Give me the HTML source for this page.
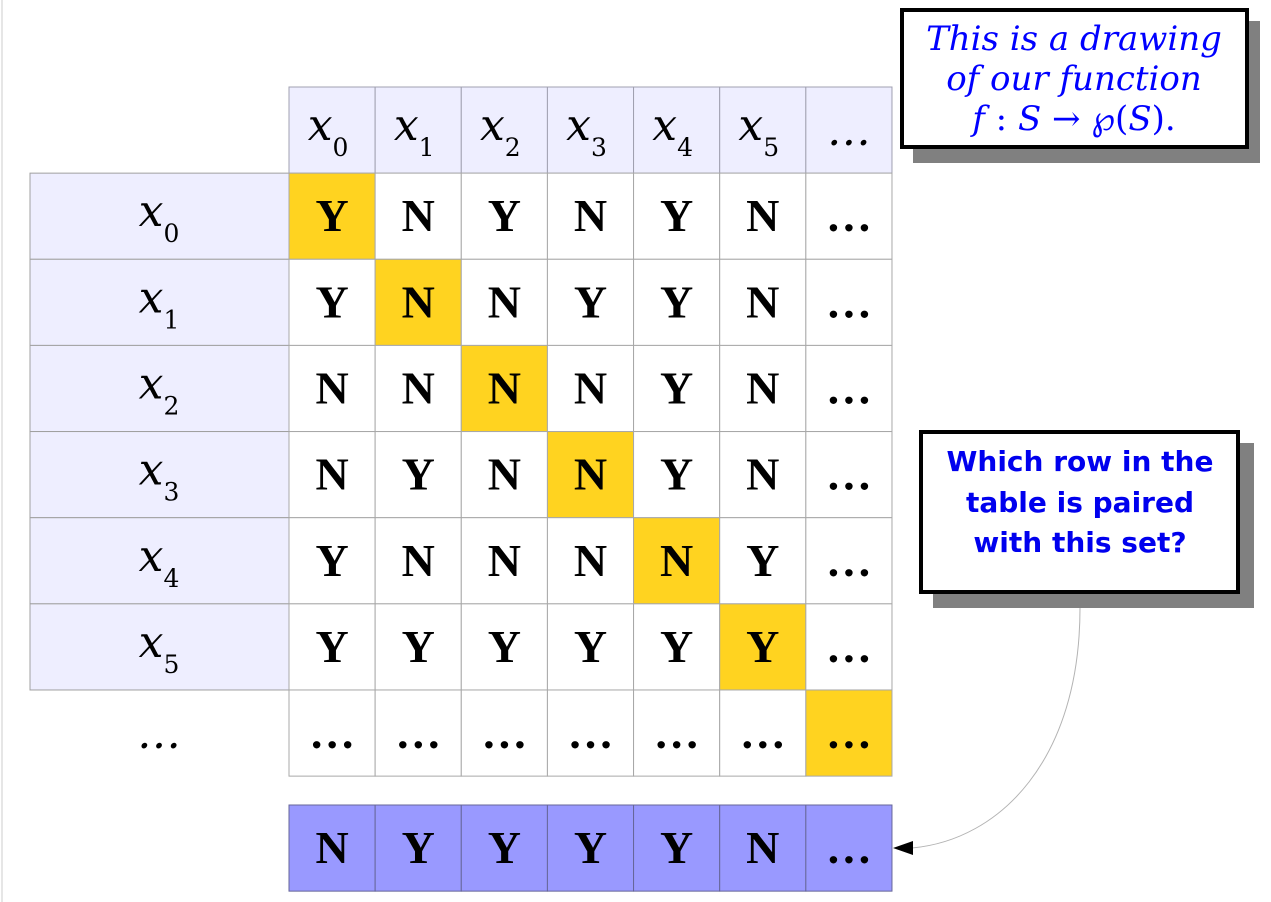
<!DOCTYPE html>
<html><head><meta charset="utf-8"><style>
html,body{margin:0;padding:0;background:#fff;}
svg{display:block;}
.cell{font-family:"Liberation Serif",serif;font-weight:bold;font-size:46px;fill:#000;}
.xv{font-family:"DejaVu Serif",serif;font-style:italic;font-size:44px;fill:#000;}
.sub{font-family:"DejaVu Serif",serif;font-style:normal;font-size:25px;fill:#000;}
</style></head><body>
<svg id="s" width="1271" height="902" viewBox="0 0 1271 902" xmlns="http://www.w3.org/2000/svg">
<line x1="2" y1="0" x2="2" y2="902" stroke="#e6e6e6" stroke-width="2"/>
<g id="tbl"></g>
<g>
<rect x="913" y="21" width="347" height="142" fill="#808080"/>
<rect x="902" y="10" width="345" height="137" fill="#fff" stroke="#000" stroke-width="4"/>
<text x="1074" y="50" text-anchor="middle" font-family="DejaVu Serif,serif" font-style="italic" font-size="34" fill="#0000ff">This is a drawing</text>
<text x="1074" y="90" text-anchor="middle" font-family="DejaVu Serif,serif" font-style="italic" font-size="34" fill="#0000ff">of our function</text>
<text x="1074" y="130" text-anchor="middle" font-family="DejaVu Serif,serif" font-size="34" fill="#0000ff"><tspan font-style="italic">f</tspan> : <tspan font-style="italic">S</tspan> → ℘(<tspan font-style="italic">S</tspan>).</text>
</g>
<g>
<rect x="933" y="443" width="321" height="165" fill="#808080"/>
<rect x="921" y="432" width="317" height="160" fill="#fff" stroke="#000" stroke-width="4"/>
<text x="1080" y="471" text-anchor="middle" font-family="DejaVu Sans,sans-serif" font-weight="bold" font-size="28" fill="#0000ee">Which row in the</text>
<text x="1080" y="512" text-anchor="middle" font-family="DejaVu Sans,sans-serif" font-weight="bold" font-size="28" fill="#0000ee">table is paired</text>
<text x="1080" y="552" text-anchor="middle" font-family="DejaVu Sans,sans-serif" font-weight="bold" font-size="28" fill="#0000ee">with this set?</text>
</g>
<path d="M1080,608 C1080,760 1000,840 912,848" fill="none" stroke="#b3b3b3" stroke-width="1"/>
<polygon points="893,848 913,841 913,855" fill="#000"/>
</svg>
<script>
const rowLabels=["0","1","2","3","4","5"];
const colLabels=["0","1","2","3","4","5"];
const matrix=[
["Y","N","Y","N","Y","N"],
["Y","N","N","Y","Y","N"],
["N","N","N","N","Y","N"],
["N","Y","N","N","Y","N"],
["Y","N","N","N","N","Y"],
["Y","Y","Y","Y","Y","Y"]];
const diagonalSet=["N","Y","Y","Y","Y","N"];
const NS="http://www.w3.org/2000/svg";
const g=document.getElementById('tbl');
const X0=289,CW=86.14,Y0=87,RH=86.14,LX=30;
const cx=i=>X0+i*CW, ry=j=>Y0+j*RH;
function rect(x,y,w,h,fill,stroke){const r=document.createElementNS(NS,'rect');r.setAttribute('x',x);r.setAttribute('y',y);r.setAttribute('width',w);r.setAttribute('height',h);r.setAttribute('fill',fill);r.setAttribute('stroke',stroke);r.setAttribute('stroke-width',1);g.appendChild(r);return r;}
function txt(x,y,s,cls){const t=document.createElementNS(NS,'text');t.setAttribute('x',x);t.setAttribute('y',y);t.setAttribute('text-anchor','middle');t.setAttribute('class',cls);t.textContent=s;g.appendChild(t);return t;}
function xlab(x,y,sub,name){const t=document.createElementNS(NS,'text');t.setAttribute('x',x);t.setAttribute('y',y);t.setAttribute('class','xv');t.setAttribute('text-anchor','middle');


const a=document.createElementNS(NS,'tspan');a.textContent='x';t.appendChild(a);
const b=document.createElementNS(NS,'tspan');b.setAttribute('class','sub');b.setAttribute('dy','16');b.setAttribute('font-style','normal');b.textContent=sub;t.appendChild(b);g.appendChild(t);}
const n=colLabels.length;
for(let i=0;i<=n;i++){const r=rect(cx(i),ry(0),CW,RH,'#eeeeff','#a0a0b0');


if(i<n)xlab(cx(i)+CW/2-4,ry(0)+RH/2+10,colLabels[i],'column-header-label');
else{const t=txt(cx(i)+CW/2,ry(0)+RH/2+15,'…','xv');
}}
for(let j=0;j<=rowLabels.length;j++){
const y=ry(j+1);
if(j<rowLabels.length){const r=rect(LX,y,X0-LX,RH,'#eeeeff','#a0a0a0');


xlab(159,y+RH/2+10,rowLabels[j],'row-header-label');}
else{const t=txt(159,y+RH/2+15,'…','xv');
}
for(let i=0;i<=n;i++){const diag=(i===j);
const r=rect(cx(i),y,CW,RH,diag?'#ffd320':'#fff','#a8a8a8');


const v=(j<rowLabels.length&&i<n)?matrix[j][i]:'…';
const t=txt(cx(i)+CW/2,y+RH/2+15,v,'cell');

}}
const BY=805;
for(let i=0;i<=n;i++){const r=rect(cx(i),BY,CW,RH,'#9999ff','#666699');


const t=txt(cx(i)+CW/2,BY+RH/2+15,i<n?diagonalSet[i]:'…','cell');

}
</script>
</body></html>
